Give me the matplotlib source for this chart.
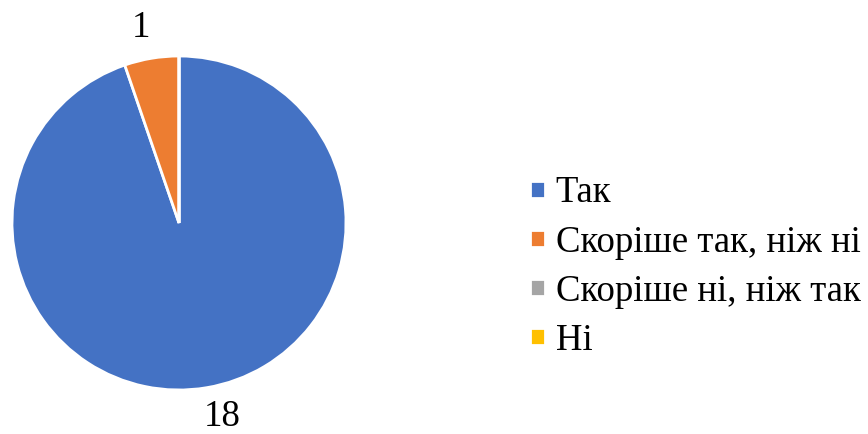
import matplotlib.pyplot as plt

plt.rcParams['font.family'] = ['Liberation Serif', 'DejaVu Serif']

categories = ['Так', 'Скоріше так, ніж ні', 'Скоріше ні, ніж так', 'Ні']
values = [18, 1, 0, 0]
colors = ['#4472C4', '#ED7D31', '#A5A5A5', '#FFC000']

fig = plt.figure(figsize=(8.68, 4.34), dpi=100)
# pie centre ~ (179, 223) px, radius ~167 px
ax = fig.add_axes([(179 - 167) / 868, (434 - 223 - 167) / 434, 334 / 868, 334 / 434])

labels = [str(v) if v > 0 else '' for v in values]
wedges, texts = ax.pie(values, labels=labels, colors=colors, startangle=90,
                       counterclock=False, labeldistance=1.2,
                       wedgeprops=dict(edgecolor='white', linewidth=2),
                       textprops=dict(fontsize=26.5, color='#000000'))
for t in texts:
    t.set_ha('center')
    t.set_va('center')
# outside-end label spots like the original
texts[0].set_position((0.26, -1.16))
texts[1].set_position((-0.23, 1.17))
ax.set_xlim(-1, 1)
ax.set_ylim(-1, 1)
ax.set_aspect('equal')

fig.legend(wedges, categories, loc='center left',
           bbox_to_anchor=(530 / 868, 1 - 267 / 434), frameon=False,
           fontsize=26.5, handlelength=0.4, handleheight=0.34,
           handletextpad=0.3, labelspacing=0.4,
           borderpad=0, borderaxespad=0)

fig.savefig('out.png', dpi=100)
